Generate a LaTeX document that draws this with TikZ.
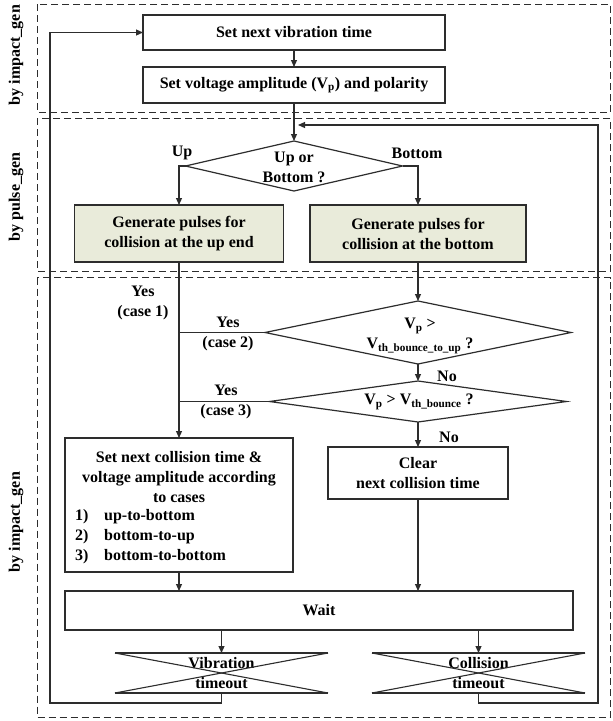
\documentclass[tikz,border=0pt]{standalone}
\usepackage{fontspec}
\setmainfont{Liberation Serif}
\usetikzlibrary{shapes.geometric,arrows.meta}
\definecolor{ln}{RGB}{45,45,45}
\definecolor{gfill}{RGB}{233,235,218}
\tikzset{
  txt/.style={inner sep=0pt, align=center, text=black},
  box/.style={draw=ln, rectangle, line width=1.2pt, inner sep=0pt, outer sep=0pt, align=center},
  gbox/.style={box, fill=gfill},
  dia/.style={diamond, draw=ln, line width=1.2pt, inner sep=0pt, outer sep=0pt},
  tmo/.style={rectangle, draw=none, inner sep=0pt, outer sep=0pt, align=center, minimum width=213pt, minimum height=40pt},
  region/.style={draw=ln, line width=1pt, dash pattern=on 7pt off 4pt},
  conn/.style={draw=ln, line width=1.1pt},
  arr/.style={conn, -{Triangle[length=7pt,width=6pt]}}
}
\begin{document}
\begin{tikzpicture}[x=1pt,y=-1pt, font=\bfseries\fontsize{16}{20}\selectfont]
\useasboundingbox[fill=white] (0,0) rectangle (613,721);
% regions
\draw[region] (37,4) rectangle (610.5,112);
\draw[region] (37,118) rectangle (610.5,271);
\draw[region] (37,277.5) rectangle (610.5,717);
\node[txt, rotate=90] (lab1) at (16,55) {by impact\_gen};
\node[txt, rotate=90] (lab2) at (16,197) {by pulse\_gen};
\node[txt, rotate=90] (lab3) at (16,522) {by impact\_gen};
% nodes
\node[box, minimum width=302pt, minimum height=35pt] (b1) at (294,32.5) {Set next vibration time};
\node[box, minimum width=302pt, minimum height=36pt] (b2) at (294,85) {Set voltage amplitude (V\textsubscript{p}) and polarity};
\node[dia, minimum width=217pt, minimum height=50pt] (d1) at (294,166) {};
\node[txt] (d1t) at (294,167) {Up or\\Bottom ?};
\node[gbox, minimum width=209pt, minimum height=57pt] (g1) at (179,233.5) {Generate pulses for\\collision at the up end};
\node[gbox, minimum width=216pt, minimum height=57pt] (g2) at (418,233.5) {Generate pulses for\\collision at the bottom};
\node[dia, minimum width=306pt, minimum height=63pt] (d2) at (418,332.5) {};
\node[txt] (d2t) at (420,336) {V\textsubscript{p} >\\V\textsubscript{th\_bounce\_to\_up} ?};
\node[dia, minimum width=297pt, minimum height=41pt] (d3) at (418,401.5) {};
\node[txt] (d3t) at (419,402) {V\textsubscript{p} > V\textsubscript{th\_bounce} ?};
\node[box, minimum width=228pt, minimum height=134pt] (sc) at (179,505) {};
\node[txt] (sct) at (179,477) {Set next collision time \&\\voltage amplitude according\\to cases};
\node[txt, anchor=west] (scl) at (75,536) {\begin{tabular}{@{}p{29pt}@{}l@{}}1)&up-to-bottom\\2)&bottom-to-up\\3)&bottom-to-bottom\end{tabular}};
\node[box, minimum width=180pt, minimum height=52pt] (cl) at (418,473) {Clear\\next collision time};
\node[box, minimum width=508pt, minimum height=39pt] (wt) at (319,610.5) {Wait};
\node[tmo] (vt) at (221.5,673) {Vibration\\timeout};
\node[tmo] (ct) at (478.5,673) {Collision\\timeout};
\foreach \t in {vt,ct}{
  \draw[conn] (\t.north west) -- (\t.north east);
  \draw[conn] (\t.south west) -- (\t.south east);
  \draw[conn] (\t.north west) -- (\t.south east);
  \draw[conn] (\t.south west) -- (\t.north east);
}
% labels
\node[txt] (lup) at (182,153) {Up};
\node[txt] (lbot) at (417,153) {Bottom};
\node[txt] (y1) at (143,303) {Yes\\(case 1)};
\node[txt] (y2) at (228,334) {Yes\\(case 2)};
\node[txt] (y3) at (226,402) {Yes\\(case 3)};
\node[txt] (n1) at (447,376) {No};
\node[txt] (n2) at (449,437) {No};
% connectors
\draw[arr] (b1.south) -- (b2.north);
\draw[arr] (b2.south) -- (d1.north);
\draw[arr] (d1.west) -| (g1.north);
\draw[arr] (d1.east) -| (g2.north);
\draw[arr] (g1.south) -- (sc.north);
\draw[arr] (g2.south) -- (d2.north);
\draw[conn] (d2.west) -- (d2.west -| g1.south);
\draw[arr] (d2.south) -- (d3.north);
\draw[conn] (d3.west) -- (d3.west -| g1.south);
\draw[arr] (d3.south) -- (cl.north);
\draw[arr] (sc.south) -- (sc.south |- wt.north);
\draw[arr] (cl.south) -- (cl.south |- wt.north);
\draw[arr] (wt.south -| vt.north) -- (vt.north);
\draw[arr] (wt.south -| ct.north) -- (ct.north);
% loops
\coordinate (lb) at (50,703);
\coordinate (rb) at (598,703);
\coordinate (rt) at (598,125);
\coordinate (rtip) at (298,125);
\draw[arr] (vt.south) |- (lb) -- (lb |- b1.west) -- (b1.west);
\draw[arr] (ct.south) |- (rb) -- (rt) -- (rtip);
\end{tikzpicture}
\end{document}
